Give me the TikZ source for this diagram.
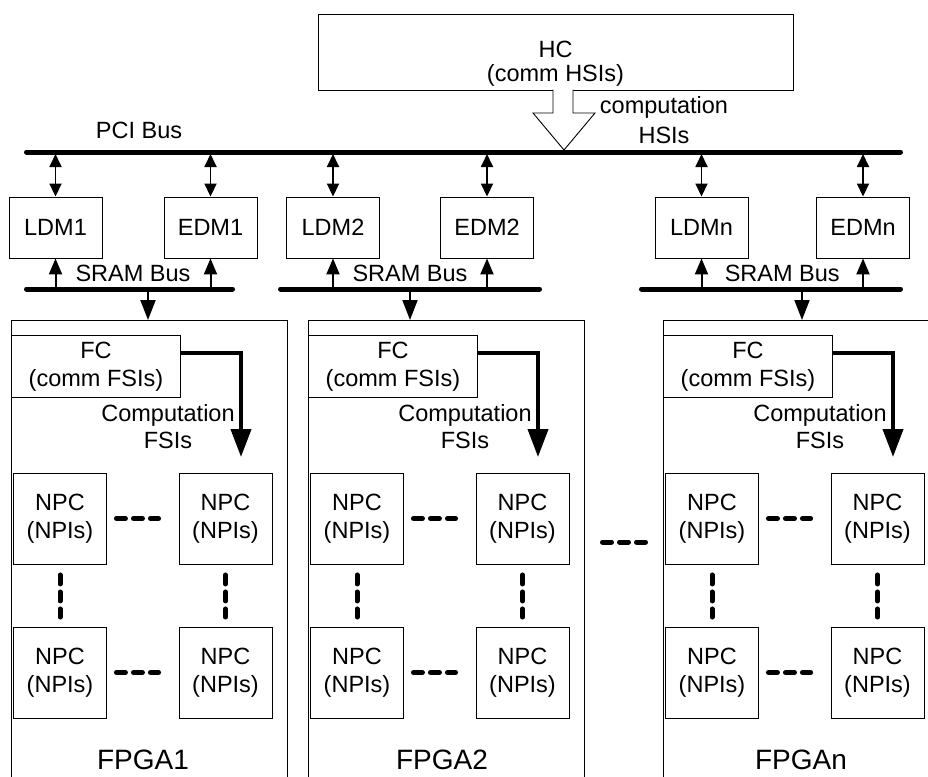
\documentclass[tikz,border=0pt]{standalone}
\usepackage{fontspec}
\setmainfont{Liberation Sans}
\usetikzlibrary{arrows.meta,calc}

\begin{document}
\begin{tikzpicture}[x=1pt,y=-1pt,
  box/.style={draw, line width=0.9pt, inner sep=0pt, align=center,
    font=\fontsize{23.5}{27.5}\selectfont},
  txt/.style={inner sep=0pt, align=center, font=\fontsize{23.5}{27.5}\selectfont},
  bus/.style={line width=5pt, line cap=round},
  bidir/.style={line width=1.8pt,
    {Triangle[length=13pt,width=12pt]}-{Triangle[length=13pt,width=12pt]}},
  uparrow/.style={line width=2pt, -{Triangle[length=16pt,width=13pt]}},
  downarrow/.style={line width=2pt, -{Triangle[length=20pt,width=15pt]}},
  flow/.style={line width=4pt, -{Triangle[length=28pt,width=20pt]}},
  ellip/.style={line width=5pt, line cap=round, dash pattern=on 9pt off 8pt}
]
\useasboundingbox (0,0) rectangle (928,776);

% host computer and PCI bus
\node[box, minimum width=475pt, minimum height=76pt] (hc) at (555.5,52) {};
\node[txt, font=\fontsize{23.5}{24}\selectfont] (hctext) at (555.5,64) {HC\\(comm HSIs)};

\coordinate (pcil) at (26.5,152);
\coordinate (pcir) at (900.5,152);
\coordinate (pci) at (0,154);
\draw[bus] (pcil) -- (pcir);
\node[txt] (pcilabel) at (139,130) {PCI Bus};

% hollow arrow from HC onto the PCI bus
\draw[line width=0.9pt, fill=white]
  (553,89.5) -- (553,113) -- (533,113) -- (564,150) -- (595,113) -- (573,113) -- (573,89.5);
\node[txt, font=\fontsize{23.5}{30}\selectfont] (hsis) at (664,120) {computation\\HSIs};

% one group per FPGA board
\foreach \g/\fx/\lx/\ex/\bl/\br/\sx/\lab/\labx in
  {1/11/55.5/210.5/26.5/232.5/148/FPGA1/143,
   2/308/333/487/280.5/539.5/410/FPGA2/442,
   n/663/701.5/863/641.5/900.5/802/FPGAn/801}
{
  \node[box, minimum width=93pt, minimum height=61pt] (ldm\g) at (\lx,227.5) {LDM\g};
  \node[box, minimum width=93pt, minimum height=61pt] (edm\g) at (\ex,227.5) {EDM\g};
  \draw[bidir] (ldm\g.north |- pci) -- (ldm\g.north);
  \draw[bidir] (edm\g.north |- pci) -- (edm\g.north);

  \coordinate (sl\g) at (\bl,289);
  \coordinate (sr\g) at (\br,289);
  \coordinate (st\g) at (\bl,287);
  \draw[bus] (sl\g) -- (sr\g);
  \node[txt] (sram\g) at ({(\lx+\ex)/2},273) {SRAM Bus};
  \draw[uparrow] (ldm\g.south |- st\g) -- (ldm\g.south);
  \draw[uparrow] (edm\g.south |- st\g) -- (edm\g.south);

  \node[box, minimum width=276pt, minimum height=470pt, anchor=north west]
    (fpga\g) at (\fx,320) {};
  \coordinate (sd\g) at (\sx,291);
  \draw[downarrow] (sd\g) -- (sd\g |- fpga\g.north);

  \node[box, minimum width=169pt, minimum height=62pt, anchor=north west,
    font=\fontsize{23.5}{28}\selectfont] (fc\g) at (\fx,335) {FC\\(comm FSIs)};
  \coordinate (ft\g) at (\fx+230,457);
  \draw[flow] ([yshift=13pt]fc\g.east) -| (ft\g);
  \node[txt, font=\fontsize{23.5}{27}\selectfont] (cmp\g) at (\fx+157,427) {Computation\\FSIs};

  \node[box, minimum width=93pt, minimum height=91pt] (npc\g-11) at (\fx+49,518.5) {NPC\\(NPIs)};
  \node[box, minimum width=93pt, minimum height=91pt] (npc\g-12) at (\fx+214.5,518.5) {NPC\\(NPIs)};
  \node[box, minimum width=93pt, minimum height=91pt] (npc\g-21) at (\fx+49,672.5) {NPC\\(NPIs)};
  \node[box, minimum width=93pt, minimum height=91pt] (npc\g-22) at (\fx+214.5,672.5) {NPC\\(NPIs)};
  \draw[ellip, shorten <=9.5pt, shorten >=20pt] (npc\g-11.east) -- (npc\g-12.west);
  \draw[ellip, shorten <=9.5pt, shorten >=20pt] (npc\g-21.east) -- (npc\g-22.west);
  \draw[ellip, shorten <=10.5pt, shorten >=9.5pt] (npc\g-11.south) -- (npc\g-21.north);
  \draw[ellip, shorten <=10.5pt, shorten >=9.5pt] (npc\g-12.south) -- (npc\g-22.north);

  \node[inner sep=0pt, font=\fontsize{28}{30}\selectfont] (lab\g) at (\labx,759.5) {\lab};
}

% ellipsis between the second and the last board
\coordinate (gapl) at (602.5,542);
\coordinate (gapr) at (645.5,542);
\draw[ellip] (gapl) -- (gapr);

\end{tikzpicture}
\end{document}
